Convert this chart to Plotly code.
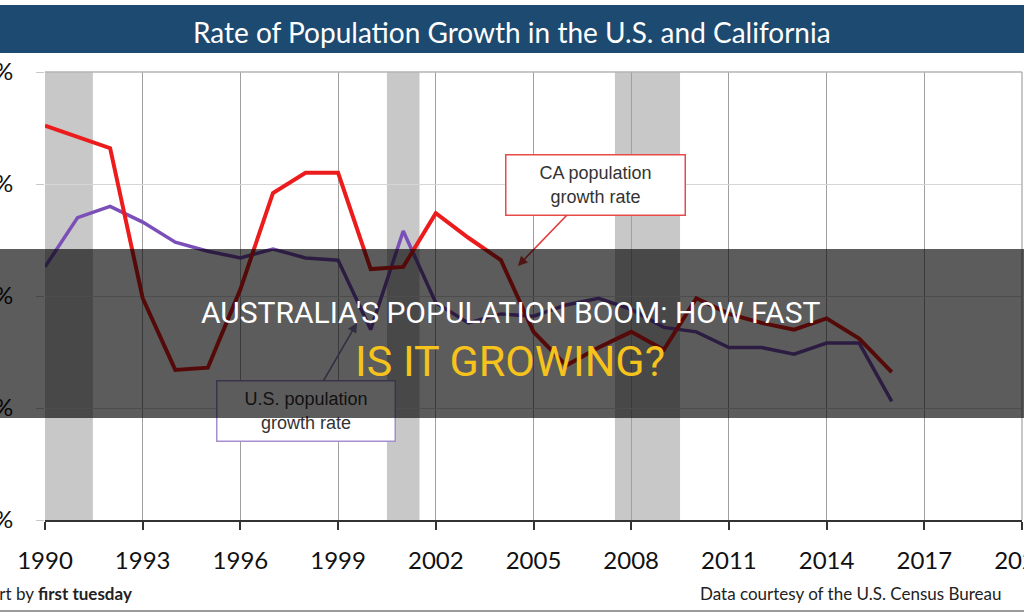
import plotly.graph_objects as go

# ---- data ----
years = list(range(1990, 2017))
ca_rate = [1.76, 1.71, 1.66, 0.99, 0.67, 0.68, 1.03, 1.46, 1.55, 1.55, 1.12, 1.13,
           1.37, 1.26, 1.16, 0.84, 0.69, 0.77, 0.84, 0.76, 0.99, 0.92, 0.88, 0.85,
           0.90, 0.81, 0.66]
us_rate = [1.13, 1.35, 1.40, 1.33, 1.24, 1.20, 1.17, 1.21, 1.17, 1.16, 0.85, 1.29,
           0.97, 0.88, 0.92, 0.91, 0.96, 0.99, 0.94, 0.86, 0.84, 0.77, 0.77, 0.74,
           0.79, 0.79, 0.53]
recession_start = [1990.0, 2000.5, 2007.5]
recession_end = [1991.47, 2001.5, 2009.5]
x_ticks = list(range(1990, 2021, 3))
y_ticks = [0, 0.5, 1.0, 1.5, 2.0]
y_tick_labels = ["0.0%", "0.5%", "1.0%", "1.5%", "2.0%"]

W, H = 1024, 614
L, R, T, B = 45, 1022, 72, 520


def px_x(p):
    return (p - L) / (R - L)


def px_y(p):
    return (B - p) / (B - T)


fig = go.Figure()
fig.add_trace(go.Scatter(x=years, y=us_rate, mode="lines", name="U.S.",
                         line=dict(color="#7b4fb8", width=3.5), hoverinfo="skip"))
fig.add_trace(go.Scatter(x=years, y=ca_rate, mode="lines", name="CA",
                         line=dict(color="#ec1c1c", width=4), hoverinfo="skip"))

shapes = []
for s, e in zip(recession_start, recession_end):
    shapes.append(dict(type="rect", xref="x", yref="paper", x0=s, x1=e, y0=0, y1=1,
                       fillcolor="#c8c8c8", line=dict(width=0), layer="below"))
# frame (top & right)
shapes.append(dict(type="line", xref="paper", yref="paper", x0=0, x1=1, y0=1, y1=1,
                   line=dict(color="#b4b4b4", width=1.5)))
shapes.append(dict(type="line", xref="paper", yref="paper", x0=1, x1=1, y0=0, y1=1,
                   line=dict(color="#b4b4b4", width=1.5)))
# title bar
shapes.append(dict(type="rect", xref="paper", yref="paper", x0=px_x(-5), x1=px_x(1030),
                   y0=px_y(53), y1=px_y(5), fillcolor="#1d4a70", line=dict(width=0)))
# footer line
shapes.append(dict(type="line", xref="paper", yref="paper", x0=px_x(-5), x1=px_x(1030),
                   y0=px_y(611), y1=px_y(611), line=dict(color="#9a9a9a", width=2)))

annotations = [
    dict(xref="paper", yref="paper", x=px_x(512), y=px_y(32), xanchor="center", yanchor="middle",
         text="Rate of Population Growth in the U.S. and California", showarrow=False,
         font=dict(family="Lato", size=28, color="white")),
    dict(xref="paper", yref="paper", x=px_x(134), y=px_y(593), xanchor="right", yanchor="middle",
         text="Chart by <b>first tuesday</b>", showarrow=False,
         font=dict(family="Lato", size=17, color="#222")),
    dict(xref="paper", yref="paper", x=px_x(1004), y=px_y(593), xanchor="right", yanchor="middle",
         text="Data courtesy of the U.S. Census Bureau", showarrow=False,
         font=dict(family="Lato", size=17, color="#222")),
    # CA callout
    dict(xref="x", yref="y", x=2004.52, y=1.134, axref="pixel", ayref="pixel",
         ax=78, ay=-81, text="CA population<br>growth rate", showarrow=True,
         arrowhead=2, arrowsize=1.2, arrowwidth=1.6, arrowcolor="#e23a3a",
         bgcolor="white", bordercolor="#e84a4a", borderwidth=1.5, borderpad=3,
         width=172, height=53, align="center",
         font=dict(family="Liberation Sans", size=18, color="#333")),
    # US callout
    dict(xref="x", yref="y", x=1999.58, y=0.88, axref="pixel", ayref="pixel",
         ax=-51, ay=88, text="U.S. population<br>growth rate", showarrow=True,
         arrowhead=2, arrowsize=1.2, arrowwidth=1.6, arrowcolor="#8e7ab8",
         bgcolor="white", bordercolor="#a48ed0", borderwidth=1.5, borderpad=3,
         width=171, height=53, align="center",
         font=dict(family="Liberation Sans", size=18, color="#333")),
    # dark overlay band
    dict(xref="paper", yref="paper", x=px_x(512), y=px_y(333.5), xanchor="center", yanchor="middle",
         text=" ", showarrow=False, width=1100, height=169, borderpad=0, borderwidth=0,
         bgcolor="rgba(0,0,0,0.64)"),
    dict(xref="paper", yref="paper", x=px_x(510), y=px_y(312), xanchor="center", yanchor="middle",
         text="AUSTRALIA'S POPULATION BOOM: HOW FAST", showarrow=False,
         font=dict(family="Roboto", size=30, color="white")),
    dict(xref="paper", yref="paper", x=px_x(510), y=px_y(361), xanchor="center", yanchor="middle",
         text="IS IT GROWING?", showarrow=False,
         font=dict(family="Roboto", size=43, color="#f6c21c")),
]

fig.update_layout(
    width=W, height=H,
    margin=dict(l=L, r=W - R, t=T, b=H - B, autoexpand=False),
    paper_bgcolor="white", plot_bgcolor="white",
    showlegend=False,
    shapes=shapes,
    annotations=annotations,
    xaxis=dict(range=[1990, 2020], tickvals=x_ticks, showgrid=True, gridcolor="#a0a0a0",
               gridwidth=1, zeroline=False, showline=True, linecolor="#333", linewidth=1.5,
               ticks="outside", ticklen=8, tickcolor="#333", tickwidth=1.5,
               ticklabelstandoff=10, automargin=False, ticklabeloverflow="allow",
               tickfont=dict(family="Lato", size=24, color="#111")),
    yaxis=dict(range=[0, 2], tickvals=y_ticks, ticktext=y_tick_labels, showgrid=True,
               gridcolor="#d6d6d6", gridwidth=1.2, zeroline=False, showline=False,
               ticks="outside", ticklen=8, tickcolor="#c8c8c8",
               ticklabelstandoff=18, automargin=False, ticklabeloverflow="allow",
               tickfont=dict(family="Lato", size=24, color="#111")),
)

fig.write_html("out.html")
